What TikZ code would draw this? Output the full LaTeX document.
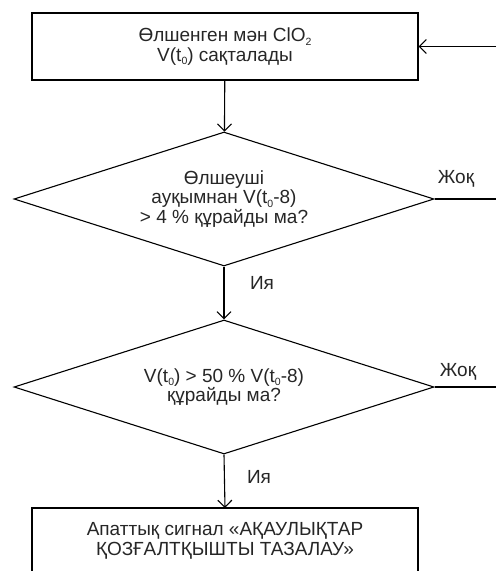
\documentclass[tikz,border=0pt]{standalone}
\usepackage{fontspec}
\setmainfont{Liberation Sans}
\usetikzlibrary{arrows.meta,shapes.geometric}
% small lowered index, e.g. t0, ClO2
\newcommand\idx[1]{\raisebox{-0.35ex}{\fontsize{10.5}{10.5}\selectfont #1}}
\begin{document}
\begin{tikzpicture}[x=1pt,y=-1pt,
  line width=1.1pt,
  every node/.style={font=\fontsize{19}{19.5}\selectfont, text=black!85},
  box/.style={draw, rectangle, minimum width=386pt, minimum height=67pt, inner sep=0pt, align=center},
  decision/.style={draw, diamond, aspect=3.13, minimum width=420pt, minimum height=134pt, inner sep=0pt, align=center},
  flow/.style={-{Straight Barb[length=7pt,width=14pt,line width=1.1pt]}},
  lbl/.style={inner sep=0pt}]
  \useasboundingbox (0,0) rectangle (496,571);

  % process box with the stored value
  \node[box] (store) at (225,46.5) {Өлшенген мән ClO\idx{2}\\V(t\idx{0}) сақталады};

  % first check
  \node[decision] (check1) at (224,199) {Өлшеуші\\ауқымнан V(t\idx{0}-8)\\> 4 \% құрайды ма?};

  % second check
  \node[decision] (check2) at (224,387) {V(t\idx{0}) > 50 \% V(t\idx{0}-8)\\құрайды ма?};

  % alarm box, open at the page bottom
  \draw (32,600) -- (32,508) -- (418,508) -- (418,600);
  \node[align=center, inner sep=0pt] (alarm) at (225,541) {Апаттық сигнал «АҚАУЛЫҚТАР\\ҚОЗҒАЛТҚЫШТЫ ТАЗАЛАУ»};
  \coordinate (alarmtop) at (225,508);

  % loose ends at the right margin
  \coordinate (back) at (496,46.5);
  \coordinate (no1) at (496,199);
  \coordinate (no2) at (496,387);

  % connectors
  \draw[flow] (store) -- (check1);
  \draw[flow] (check1) -- (check2);
  \draw[flow] (check2.south) -- (alarmtop);
  \draw[flow] (back) -- (store.east);
  \draw (check1.east) -- (no1);
  \draw (check2.east) -- (no2);

  % branch labels
  \node[lbl] (yes1) at (262,283) {Ия};
  \node[lbl] (yes2) at (259,477) {Ия};
  \node[lbl] (nolab1) at (456,179) {Жоқ};
  \node[lbl] (nolab2) at (458,372) {Жоқ};
\end{tikzpicture}
\end{document}
